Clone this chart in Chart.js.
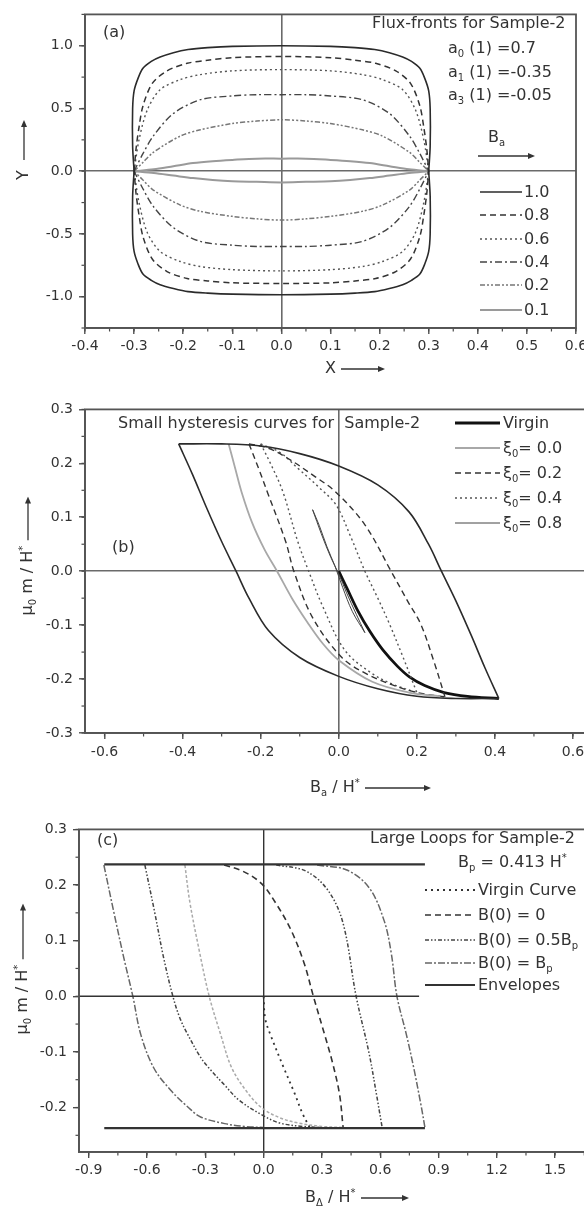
<!DOCTYPE html>
<html>
<head>
<meta charset="utf-8">
<script src="https://cdn.jsdelivr.net/npm/chart.js@4.4.1/dist/chart.umd.min.js"></script>
<style>
  html, body { margin:0; padding:0; width:584px; height:1209px; overflow:hidden; background:#fff; }
  canvas { position:absolute; left:0; }
  .t { position:absolute; font-family:"DejaVu Sans", sans-serif; font-size:16px; line-height:16px; color:#333; white-space:nowrap; z-index:5; }
  .t sub, .t sup { font-size:10px; line-height:0; }
  .t svg { vertical-align:middle; }
  .rot { transform: translate(-50%,-50%) rotate(-90deg); }
</style>
</head>
<body>
<canvas id="ca" width="620" height="395" style="top:0px"></canvas>
<canvas id="cb" width="620" height="420" style="top:395px"></canvas>
<canvas id="cc" width="620" height="394" style="top:815px"></canvas>

<!-- panel (a) texts -->
<div class="t" style="left:103px;top:24px">(a)</div>
<div class="t" style="left:372px;top:15px">Flux-fronts for Sample-2</div>
<div class="t" style="left:448px;top:40px">a<sub>0</sub> (1) =0.7</div>
<div class="t" style="left:448px;top:64px">a<sub>1</sub> (1) =-0.35</div>
<div class="t" style="left:448px;top:87px">a<sub>3</sub> (1) =-0.05</div>
<div class="t" style="left:488px;top:129px">B<sub>a</sub></div>
<div class="t" id="arrBa" style="left:478px;top:147px"></div>
<div class="t" style="left:524px;top:184px">1.0</div>
<div class="t" style="left:524px;top:207px">0.8</div>
<div class="t" style="left:524px;top:231px">0.6</div>
<div class="t" style="left:524px;top:254px">0.4</div>
<div class="t" style="left:524px;top:277px">0.2</div>
<div class="t" style="left:524px;top:302px">0.1</div>
<div class="t" style="left:325px;top:360px">X <span class="arr" data-len="44"></span></div>
<div class="t rot" style="left:23px;top:150px">Y&nbsp;&nbsp;<span class="arr" data-len="40"></span></div>

<!-- panel (b) texts -->
<div class="t" style="left:118px;top:415px">Small hysteresis curves for&nbsp; Sample-2</div>
<div class="t" style="left:112px;top:539px">(b)</div>
<div class="t" style="left:503px;top:415px">Virgin</div>
<div class="t" style="left:503px;top:440px">ξ<sub>0</sub>= 0.0</div>
<div class="t" style="left:503px;top:465px">ξ<sub>0</sub>= 0.2</div>
<div class="t" style="left:503px;top:490px">ξ<sub>0</sub>= 0.4</div>
<div class="t" style="left:503px;top:515px">ξ<sub>0</sub>= 0.8</div>
<div class="t" style="left:310px;top:779px">B<sub>a</sub> / H<sup>*</sup> <span class="arr" data-len="66"></span></div>
<div class="t rot" style="left:27px;top:556px">μ<sub>0</sub> m / H<sup>*</sup> <span class="arr" data-len="44"></span></div>

<!-- panel (c) texts -->
<div class="t" style="left:97px;top:832px">(c)</div>
<div class="t" style="left:370px;top:830px">Large Loops for Sample-2</div>
<div class="t" style="left:458px;top:854px">B<sub>p</sub> = 0.413 H<sup>*</sup></div>
<div class="t" style="left:478px;top:882px">Virgin Curve</div>
<div class="t" style="left:478px;top:907px">B(0) = 0</div>
<div class="t" style="left:478px;top:932px">B(0) = 0.5B<sub>p</sub></div>
<div class="t" style="left:478px;top:955px">B(0) = B<sub>p</sub></div>
<div class="t" style="left:478px;top:977px">Envelopes</div>
<div class="t" style="left:305px;top:1189px">B<sub>Δ</sub> / H<sup>*</sup> <span class="arr" data-len="48"></span></div>
<div class="t rot" style="left:22px;top:969px">μ<sub>0</sub> m / H<sup>*</sup> <span class="arr" data-len="56"></span></div>

<script>
// ---------------- tick values ----------------
const A_XTICKS = [-0.4,-0.3,-0.2,-0.1,0.0,0.1,0.2,0.3,0.4,0.5,0.6];
const A_YTICKS = [-1.0,-0.5,0.0,0.5,1.0];
const B_XTICKS = [-0.6,-0.4,-0.2,0.0,0.2,0.4,0.6];
const B_YTICKS = [-0.3,-0.2,-0.1,0.0,0.1,0.2,0.3];
const C_XTICKS = [-0.9,-0.6,-0.3,0.0,0.3,0.6,0.9,1.2,1.5];
const C_YTICKS = [-0.2,-0.1,0.0,0.1,0.2,0.3];

// ---------------- Panel (a): flux fronts (upper and lower halves) ----------------
const A_LABELS = ['1.0','0.8','0.6','0.4','0.2','0.1'];
const A10_X  = [-0.300,-0.303,-0.303,-0.300,-0.292,-0.282,-0.265,-0.247,-0.220,-0.190,-0.150,-0.100,0.000,0.100,0.150,0.190,0.220,0.247,0.265,0.282,0.292,0.300,0.303,0.303,0.300];
const A10_YU = [0.00,0.20,0.50,0.64,0.74,0.82,0.875,0.91,0.945,0.97,0.985,0.995,1.00,0.995,0.985,0.97,0.945,0.91,0.875,0.82,0.74,0.64,0.50,0.20,0.00];
const A10_YL = [0.00,-0.20,-0.50,-0.64,-0.74,-0.82,-0.87,-0.905,-0.935,-0.96,-0.972,-0.98,-0.985,-0.98,-0.972,-0.96,-0.935,-0.905,-0.87,-0.82,-0.74,-0.64,-0.50,-0.20,0.00];
const A08_X  = [-0.300,-0.296,-0.290,-0.282,-0.263,-0.233,-0.192,-0.150,-0.100,0.000,0.100,0.150,0.192,0.233,0.263,0.282,0.290,0.296,0.300];
const A08_YU = [0.00,0.18,0.35,0.52,0.70,0.80,0.86,0.885,0.905,0.915,0.905,0.885,0.86,0.80,0.70,0.52,0.35,0.18,0.00];
const A08_YL = [0.00,-0.18,-0.35,-0.52,-0.70,-0.80,-0.855,-0.875,-0.89,-0.895,-0.89,-0.875,-0.855,-0.80,-0.70,-0.52,-0.35,-0.18,0.00];
const A06_X  = [-0.300,-0.290,-0.273,-0.247,-0.206,-0.165,-0.100,0.000,0.100,0.165,0.206,0.247,0.273,0.290,0.300];
const A06_YU = [0.00,0.25,0.49,0.65,0.73,0.77,0.80,0.81,0.80,0.77,0.73,0.65,0.49,0.25,0.00];
const A06_YL = [0.00,-0.25,-0.49,-0.64,-0.72,-0.76,-0.785,-0.795,-0.785,-0.76,-0.72,-0.64,-0.49,-0.25,0.00];
const A04_X  = [-0.300,-0.282,-0.261,-0.220,-0.165,-0.100,-0.050,0.000,0.050,0.100,0.165,0.220,0.261,0.282,0.300];
const A04_YU = [0.00,0.14,0.28,0.46,0.57,0.60,0.61,0.61,0.61,0.60,0.57,0.46,0.28,0.14,0.00];
const A04_YL = [0.00,-0.14,-0.28,-0.45,-0.56,-0.59,-0.60,-0.60,-0.60,-0.59,-0.56,-0.45,-0.28,-0.14,0.00];
const A02_X  = [-0.300,-0.282,-0.261,-0.206,-0.165,-0.100,-0.050,0.000,0.050,0.100,0.165,0.206,0.261,0.282,0.300];
const A02_YU = [0.00,0.07,0.15,0.28,0.33,0.38,0.40,0.41,0.40,0.38,0.33,0.28,0.15,0.07,0.00];
const A02_YL = [0.00,-0.07,-0.15,-0.27,-0.32,-0.36,-0.38,-0.39,-0.38,-0.36,-0.32,-0.27,-0.15,-0.07,0.00];
const A01_X  = [-0.300,-0.260,-0.220,-0.180,-0.140,-0.100,-0.050,0.000,0.050,0.100,0.140,0.180,0.220,0.260,0.300];
const A01_YU = [0.00,0.015,0.04,0.065,0.08,0.09,0.10,0.10,0.10,0.09,0.08,0.065,0.04,0.015,0.00];
const A01_YL = [0.00,-0.015,-0.035,-0.055,-0.07,-0.08,-0.085,-0.09,-0.085,-0.08,-0.07,-0.055,-0.035,-0.015,0.00];

// ---------------- Panel (b): small hysteresis curves ----------------
const B_LABELS = ['Virgin','ξ0= 0.0','ξ0= 0.2','ξ0= 0.4','ξ0= 0.8'];
const B_ENVU_X = [-0.41,-0.30,-0.20,-0.10,0.000,0.100,0.180,0.230,0.263,0.300,0.340,0.375,0.41];
const B_ENVU_Y = [0.236,0.236,0.232,0.218,0.195,0.160,0.110,0.050,0.000,-0.055,-0.120,-0.180,-0.236];
const B_ENVL_X = [-0.41,-0.375,-0.340,-0.300,-0.263,-0.230,-0.180,-0.100,0.000,0.100,0.200,0.300,0.41];
const B_ENVL_Y = [0.236,0.180,0.120,0.055,0.000,-0.050,-0.110,-0.160,-0.195,-0.218,-0.232,-0.236,-0.236];
const B_VIR_X  = [0.000,0.020,0.050,0.080,0.114,0.150,0.181,0.220,0.270,0.330,0.410];
const B_VIR_Y  = [0.000,-0.030,-0.075,-0.112,-0.147,-0.176,-0.196,-0.212,-0.225,-0.232,-0.236];
const B_X00_X  = [-0.282,-0.265,-0.249,-0.222,-0.190,-0.158,-0.120,-0.080,-0.040,0.000,0.086,0.180,0.260];
const B_X00_Y  = [0.236,0.190,0.147,0.090,0.040,0.000,-0.050,-0.095,-0.135,-0.165,-0.205,-0.225,-0.232];
const B_X02R_X = [-0.23,-0.18,-0.13,-0.06,-0.008,0.067,0.134,0.180,0.210,0.245,0.272];
const B_X02R_Y = [0.236,0.228,0.209,0.175,0.147,0.086,0.000,-0.060,-0.098,-0.170,-0.233];
const B_X02L_X = [-0.23,-0.205,-0.183,-0.136,-0.115,-0.067,0.008,0.070,0.134,0.200,0.272];
const B_X02L_Y = [0.236,0.190,0.147,0.055,0.000,-0.086,-0.160,-0.190,-0.210,-0.225,-0.233];
const B_X04R_X = [-0.20,-0.15,-0.105,-0.05,-0.007,0.030,0.067,0.100,0.130,0.165,0.200];
const B_X04R_Y = [0.236,0.220,0.191,0.155,0.123,0.065,0.000,-0.050,-0.098,-0.160,-0.225];
const B_X04L_X = [-0.20,-0.175,-0.143,-0.105,-0.077,-0.040,0.016,0.086,0.140,0.200];
const B_X04L_Y = [0.236,0.200,0.147,0.055,0.000,-0.067,-0.147,-0.190,-0.210,-0.225];
const B_X08A_X = [-0.067,-0.045,-0.020,0.000,0.020,0.045,0.067];
const B_X08A_Y = [0.114,0.070,0.025,-0.005,-0.040,-0.080,-0.114];
const B_X08B_X = [-0.067,-0.050,-0.030,-0.010,0.010,0.035,0.067];
const B_X08B_Y = [0.114,0.085,0.045,0.010,-0.030,-0.075,-0.114];

// ---------------- Panel (c): large loops ----------------
const C_LABELS = ['Virgin Curve','B(0) = 0','B(0) = 0.5Bp','B(0) = Bp','Envelopes'];
const C_ZERO_X = [-0.95,0.80];
const C_ZERO_Y = [0.0,0.0];
const C_ENVT_X = [-0.82,0.83];
const C_ENVT_Y = [0.237,0.237];
const C_ENVB_X = [-0.82,0.83];
const C_ENVB_Y = [-0.237,-0.237];
const C_VIR_X  = [0.000,0.008,0.036,0.103,0.160,0.199,0.237];
const C_VIR_Y  = [0.000,-0.040,-0.070,-0.128,-0.175,-0.210,-0.236];
const C_R1_X   = [-0.203,-0.108,-0.012,0.065,0.141,0.208,0.256,0.313,0.352,0.390,0.409];
const C_R1_Y   = [0.236,0.225,0.203,0.166,0.119,0.060,0.000,-0.068,-0.116,-0.175,-0.236];
const C_L3_X   = [-0.405,-0.380,-0.330,-0.280,-0.220,-0.165,-0.090,-0.012,0.080,0.180,0.300,0.410];
const C_L3_Y   = [0.236,0.170,0.080,0.000,-0.070,-0.128,-0.170,-0.200,-0.218,-0.228,-0.234,-0.236];
const C_L2_X   = [-0.611,-0.560,-0.515,-0.467,-0.430,-0.390,-0.324,-0.279,-0.200,-0.126,0.000,0.084,0.200,0.300];
const C_L2_Y   = [0.236,0.150,0.070,0.000,-0.040,-0.069,-0.110,-0.130,-0.160,-0.187,-0.215,-0.228,-0.234,-0.236];
const C_R2_X   = [0.065,0.218,0.332,0.409,0.476,0.543,0.580,0.610];
const C_R2_Y   = [0.236,0.225,0.190,0.131,0.000,-0.103,-0.175,-0.236];
const C_L1_X   = [-0.822,-0.770,-0.720,-0.673,-0.632,-0.565,-0.478,-0.390,-0.324,-0.200,-0.100,0.000];
const C_L1_Y   = [0.236,0.150,0.070,0.000,-0.069,-0.129,-0.169,-0.199,-0.217,-0.229,-0.234,-0.236];
const C_R3_X   = [0.275,0.428,0.543,0.620,0.657,0.686,0.734,0.772,0.811,0.830];
const C_R3_Y   = [0.236,0.227,0.195,0.136,0.077,0.000,-0.068,-0.128,-0.198,-0.236];

// ---------------- helpers ----------------
function pts(xs, ys) { return xs.map((x, i) => ({ x: x, y: ys[i] })); }
function closed(xs, yu, yl) { return pts(xs, yu).concat(pts(xs, yl).reverse()); }
function ds(label, data, color, width, dash, tension) {
  return { label: label, data: data, showLine: true, borderColor: color, borderWidth: width,
           borderDash: dash || [], pointRadius: 0, fill: false, tension: tension === undefined ? 0.35 : tension };
}

const frameMinor = {
  id: 'frameMinor',
  afterDraw(chart, args, o) {
    const ctx = chart.ctx, a = chart.chartArea, xs = chart.scales.x, ys = chart.scales.y;
    ctx.save();
    ctx.strokeStyle = '#4a4a4a';
    ctx.lineWidth = 1.2;
    ctx.setLineDash([]);
    let i;
    for (i = Math.ceil(xs.min / o.xMinor - 1e-6); i * o.xMinor <= xs.max + 1e-6; i++) {
      const px = xs.getPixelForValue(i * o.xMinor);
      ctx.beginPath(); ctx.moveTo(px, a.bottom); ctx.lineTo(px, a.bottom + 3.5); ctx.stroke();
    }
    for (i = Math.ceil(ys.min / o.yMinor - 1e-6); i * o.yMinor <= ys.max + 1e-6; i++) {
      const py = ys.getPixelForValue(i * o.yMinor);
      ctx.beginPath(); ctx.moveTo(a.left, py); ctx.lineTo(a.left - 3.5, py); ctx.stroke();
    }
    ctx.strokeStyle = '#555';
    ctx.lineWidth = 1.8;
    ctx.strokeRect(a.left, a.top, a.right - a.left, a.bottom - a.top);
    ctx.restore();
  }
};

const sampleLines = {
  id: 'sampleLines',
  afterDatasetsDraw(chart, args, o) {
    const ctx = chart.ctx;
    (o.items || []).forEach(it => {
      const d = chart.data.datasets[it.ds];
      ctx.save();
      ctx.strokeStyle = d.borderColor; ctx.lineWidth = d.borderWidth; ctx.setLineDash(d.borderDash || []);
      ctx.beginPath(); ctx.moveTo(it.x1, it.y); ctx.lineTo(it.x2, it.y); ctx.stroke();
      ctx.restore();
    });
  }
};

const TICK_FONT = { family: 'DejaVu Sans', size: 14 };

function makeChart(id, datasets, c) {
  const zeroGrid = (show, col, w) => ({
    drawOnChartArea: true,
    color: (ctx) => (show && ctx.tick && Math.abs(ctx.tick.value) < 1e-9) ? col : 'rgba(0,0,0,0)',
    lineWidth: w,
    tickColor: '#444', tickLength: 6, tickWidth: 1.3
  });
  return new Chart(document.getElementById(id), {
    type: 'scatter',
    data: { datasets: datasets },
    options: {
      responsive: false, animation: false, devicePixelRatio: 1,
      layout: { padding: { top: c.top, right: c.right, left: 0, bottom: 0 } },
      plugins: {
        legend: { display: false }, tooltip: { enabled: false },
        frameMinor: { xMinor: c.xMinor, yMinor: c.yMinor },
        sampleLines: { items: c.samples }
      },
      scales: {
        x: {
          type: 'linear', min: c.xMin, max: c.xMax,
          afterBuildTicks: (s) => { s.ticks = c.xTicks.map(v => ({ value: v })); },
          ticks: { padding: c.xPad, font: TICK_FONT, color: '#333', maxRotation: 0, autoSkip: false,
                   callback: (v) => Number(v).toFixed(1) },
          grid: zeroGrid(c.xZero, c.zeroColor, c.zeroWidth),
          border: { display: true, color: '#555', width: 1.8 },
          afterFit: (s) => { s.height = c.xH; }
        },
        y: {
          type: 'linear', min: c.yMin, max: c.yMax,
          afterBuildTicks: (s) => { s.ticks = c.yTicks.map(v => ({ value: v })); },
          ticks: { padding: 6, font: TICK_FONT, color: '#333', autoSkip: false,
                   callback: (v) => Number(v).toFixed(1) },
          grid: zeroGrid(c.yZero, c.zeroColor, c.zeroWidth),
          border: { display: true, color: '#555', width: 1.8 },
          afterFit: (s) => { s.width = c.yW; }
        }
      }
    },
    plugins: [frameMinor, sampleLines]
  });
}

// ---------------- Chart (a) ----------------
const dsA = [
  ds(A_LABELS[0], closed(A10_X, A10_YU, A10_YL), '#2b2b2b', 1.6, [], 0.3),
  ds(A_LABELS[1], closed(A08_X, A08_YU, A08_YL), '#333', 1.5, [6, 4], 0.3),
  ds(A_LABELS[2], closed(A06_X, A06_YU, A06_YL), '#555', 1.4, [2, 3], 0.3),
  ds(A_LABELS[3], closed(A04_X, A04_YU, A04_YL), '#444', 1.4, [7, 3, 2, 3], 0.3),
  ds(A_LABELS[4], closed(A02_X, A02_YU, A02_YL), '#777', 1.5, [5, 2, 2, 2, 2, 2], 0.3),
  ds(A_LABELS[5], closed(A01_X, A01_YU, A01_YL), '#9a9a9a', 2.0, [], 0.3)
];
makeChart('ca', dsA, {
  top: 10, right: 44, xH: 67, yW: 85, xPad: 4,
  xMin: -0.4, xMax: 0.6, xTicks: A_XTICKS, xMinor: 0.05,
  yMin: -1.25, yMax: 1.25, yTicks: A_YTICKS, yMinor: 0.25,
  xZero: true, yZero: true, zeroColor: '#6a6a6a', zeroWidth: 1.6,
  samples: [
    { ds: 0, x1: 480, x2: 522, y: 192 }, { ds: 1, x1: 480, x2: 522, y: 215 },
    { ds: 2, x1: 480, x2: 522, y: 239 }, { ds: 3, x1: 480, x2: 522, y: 262 },
    { ds: 4, x1: 480, x2: 522, y: 285 }, { ds: 5, x1: 480, x2: 522, y: 310 }
  ]
});

// ---------------- Chart (b) ----------------
const dsB = [
  ds('envelope+', pts(B_ENVU_X, B_ENVU_Y), '#2b2b2b', 1.6),
  ds('envelope-', pts(B_ENVL_X, B_ENVL_Y), '#2b2b2b', 1.6),
  ds(B_LABELS[1], pts(B_X00_X, B_X00_Y), '#a8a8a8', 1.8),
  ds(B_LABELS[2], pts(B_X02R_X, B_X02R_Y), '#333', 1.4, [6, 4]),
  ds(B_LABELS[2] + 'b', pts(B_X02L_X, B_X02L_Y), '#333', 1.4, [6, 4]),
  ds(B_LABELS[3], pts(B_X04R_X, B_X04R_Y), '#555', 1.4, [2, 3]),
  ds(B_LABELS[3] + 'b', pts(B_X04L_X, B_X04L_Y), '#555', 1.4, [2, 3]),
  ds(B_LABELS[4], pts(B_X08A_X, B_X08A_Y), '#444', 1.0),
  ds(B_LABELS[4] + 'b', pts(B_X08B_X, B_X08B_Y), '#444', 1.0),
  ds(B_LABELS[0], pts(B_VIR_X, B_VIR_Y), '#111', 2.8)
];
makeChart('cb', dsB, {
  top: 12, right: 27.5, xH: 82, yW: 85, xPad: 5,
  xMin: -0.65, xMax: 0.65, xTicks: B_XTICKS, xMinor: 0.1,
  yMin: -0.3, yMax: 0.3, yTicks: B_YTICKS, yMinor: 0.05,
  xZero: true, yZero: true, zeroColor: '#6a6a6a', zeroWidth: 1.6,
  samples: [
    { ds: 9, x1: 455, x2: 500, y: 28 }, { ds: 2, x1: 455, x2: 500, y: 53 },
    { ds: 3, x1: 455, x2: 500, y: 78 }, { ds: 5, x1: 455, x2: 500, y: 103 },
    { ds: 7, x1: 455, x2: 500, y: 128 }
  ]
});

// ---------------- Chart (c) ----------------
const dsC = [
  ds('zero', pts(C_ZERO_X, C_ZERO_Y), '#333', 1.5, [], 0),
  ds(C_LABELS[4], pts(C_ENVT_X, C_ENVT_Y), '#333', 2.2, [], 0),
  ds(C_LABELS[4] + 'b', pts(C_ENVB_X, C_ENVB_Y), '#333', 2.2, [], 0),
  ds(C_LABELS[0], pts(C_VIR_X, C_VIR_Y), '#333', 1.8, [2, 4]),
  ds(C_LABELS[1], pts(C_R1_X, C_R1_Y), '#333', 1.6, [6, 4]),
  ds(C_LABELS[1] + 'b', pts(C_L3_X, C_L3_Y), '#aaa', 1.5, [3, 2]),
  ds(C_LABELS[2], pts(C_L2_X, C_L2_Y), '#444', 1.5, [4, 2, 1.5, 2, 1.5, 2]),
  ds(C_LABELS[2] + 'b', pts(C_R2_X, C_R2_Y), '#444', 1.5, [4, 2, 1.5, 2, 1.5, 2]),
  ds(C_LABELS[3], pts(C_L1_X, C_L1_Y), '#666', 1.5, [7, 2, 2, 2]),
  ds(C_LABELS[3] + 'b', pts(C_R3_X, C_R3_Y), '#666', 1.5, [7, 2, 2, 2])
];
makeChart('cc', dsC, {
  top: 9, right: 26, xH: 57, yW: 79, xPad: 4,
  xMin: -0.95, xMax: 1.7, xTicks: C_XTICKS, xMinor: 0.15,
  yMin: -0.28, yMax: 0.3, yTicks: C_YTICKS, yMinor: 0.05,
  xZero: true, yZero: false, zeroColor: '#333', zeroWidth: 1.4,
  samples: [
    { ds: 3, x1: 425, x2: 475, y: 75 }, { ds: 4, x1: 425, x2: 475, y: 100 },
    { ds: 6, x1: 425, x2: 475, y: 125 }, { ds: 8, x1: 425, x2: 475, y: 148 },
    { ds: 1, x1: 425, x2: 475, y: 170 }
  ]
});

// ---------------- arrows in titles ----------------
function arrowSvg(len) {
  return '<svg width="' + len + '" height="8" viewBox="0 0 ' + len + ' 8">' +
         '<line x1="0" y1="4" x2="' + (len - 6) + '" y2="4" stroke="#333" stroke-width="1.3"/>' +
         '<polygon points="' + (len - 7) + ',1 ' + len + ',4 ' + (len - 7) + ',7" fill="#333"/></svg>';
}
document.querySelectorAll('.arr').forEach(el => { el.innerHTML = arrowSvg(+el.dataset.len); });
document.getElementById('arrBa').innerHTML = arrowSvg(57);
</script>
</body>
</html>
